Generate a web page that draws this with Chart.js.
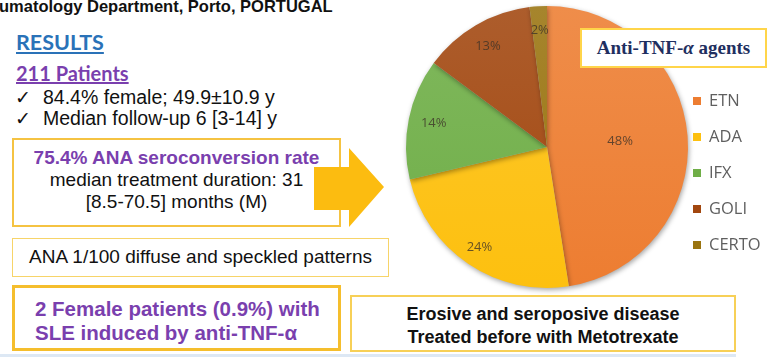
<!DOCTYPE html>
<html>
<head>
<meta charset="utf-8">
<script src="https://cdn.jsdelivr.net/npm/chart.js@4.4.1/dist/chart.umd.min.js"></script>
<style>
  html, body { margin: 0; padding: 0; background: #fff; }
  body { width: 775px; height: 361px; position: relative; overflow: hidden; font-family: "Liberation Sans", Arial, sans-serif; }
  .abs { position: absolute; white-space: nowrap; }
  .box { position: absolute; box-sizing: border-box; background: #fff; white-space: nowrap; }
  #chartWrap { position: absolute; left: 400px; top: 0; width: 375px; height: 300px; }
</style>
</head>
<body>

<div class="abs" style="left:-1px; top:-4px; font-size:16.5px; font-weight:bold; line-height:20px; color:#111;">umatology Department, Porto, PORTUGAL</div>

<div class="abs" style="left:16px; top:30px; font-family:Lato, sans-serif; font-size:21.5px; font-weight:bold; line-height:24px; color:#2a72b8; text-decoration:underline;">RESULTS</div>
<div class="abs" style="left:16px; top:62px; font-family:Lato, sans-serif; font-size:20px; font-weight:bold; line-height:22px; color:#7a3fae; text-decoration:underline;">211 Patients</div>
<div class="abs" style="left:15px; top:86px; font-family:'DejaVu Sans', sans-serif; font-size:19px; line-height:22px; color:#111;">✓</div>
<div class="abs" style="left:43px; top:86px; font-size:19.5px; line-height:22px; color:#111;">84.4% female; 49.9±10.9 y</div>
<div class="abs" style="left:15px; top:107px; font-family:'DejaVu Sans', sans-serif; font-size:19px; line-height:22px; color:#111;">✓</div>
<div class="abs" style="left:43px; top:107px; font-size:19.5px; line-height:22px; color:#111;">Median follow-up 6 [3-14] y</div>

<div class="box" style="left:12px; top:138px; width:329px; height:89px; border:2px solid #f5c342;">
  <div style="text-align:center; padding-top:7px; font-size:19px; line-height:22px; color:#111;">
    <span style="color:#7a3fae; font-weight:bold;">75.4% ANA seroconversion rate</span><br>
    median treatment duration: 31<br>
    [8.5-70.5] months (M)
  </div>
</div>

<svg class="abs" style="left:0; top:0;" width="400" height="361">
  <polygon points="314,167 349,167 349,148 384,187 349,227 349,210 314,210" fill="#fcbc10"/>
</svg>

<div class="box" style="left:12px; top:238px; width:377px; height:39px; border:1.5px solid #f7d469;">
  <div style="text-align:center; font-size:19px; line-height:36px; color:#111;">ANA 1/100 diffuse and speckled patterns</div>
</div>

<div class="box" style="left:12px; top:285px; width:329px; height:66px; border:3px solid #f5be2d;">
  <div style="padding:9px 0 0 20px; font-size:20.5px; font-weight:bold; line-height:24px; color:#7a3fae;">
    2 Female patients (0.9%) with<br>SLE induced by anti-TNF-α
  </div>
</div>

<div id="chartWrap"><canvas id="pieChart"></canvas></div>

<div class="box" style="left:580px; top:28px; width:187px; height:40px; border:2px solid #ffd54a;">
  <div style="text-align:center; font-family:'Liberation Serif', 'DejaVu Serif', serif; font-size:19px; font-weight:bold; line-height:36px; color:#1f2f60;">Anti-TNF-<i>α</i> agents</div>
</div>

<div class="box" style="left:350px; top:295px; width:386px; height:57px; border:2px solid #f7d057;">
  <div style="text-align:center; padding-top:6px; font-size:18px; font-weight:bold; line-height:23px; color:#111;">
    Erosive and seroposive disease<br>Treated before with Metotrexate
  </div>
</div>

<div class="abs" style="left:0; top:354px; width:736px; height:3px; background:#dde8f4;"></div>

<script>
// Anti-TNF-alpha agents, share of patients (%)
const agents = ["ETN", "ADA", "IFX", "GOLI", "CERTO"];
const shares = [48, 24, 14, 13, 2];
const agentColors = ["#ed7d31", "#fdc00f", "#6fae47", "#a2470f", "#9a7410"];

// label distance from centre, as a fraction of the radius
const labelRadius = [0.52, 0.86, 0.82, 0.83, 0.83];

function lighten(hex, amt) {
    const n = parseInt(hex.slice(1), 16);
    const r = (n >> 16) & 255, g = (n >> 8) & 255, b = n & 255;
    const mix = c => Math.round(c + (255 - c) * amt);
    return `rgb(${mix(r)},${mix(g)},${mix(b)})`;
}

// soft shadow under the pie
const pieShadow = {
    id: "pieShadow",
    beforeDatasetsDraw(chart) {
        const ctx = chart.ctx;
        ctx.save();
        ctx.shadowColor = "rgba(0,0,0,0.35)";
        ctx.shadowBlur = 5;
        ctx.shadowOffsetX = 1;
        ctx.shadowOffsetY = 2;
    },
    afterDatasetsDraw(chart) {
        chart.ctx.restore();
    }
};

// percent labels inside the slices
const sliceLabels = {
    id: "sliceLabels",
    afterDatasetsDraw(chart) {
        const ctx = chart.ctx;
        const meta = chart.getDatasetMeta(0);
        ctx.save();
        ctx.font = "13px 'Open Sans', 'Liberation Sans', sans-serif";
        ctx.fillStyle = "rgba(60,50,40,0.78)";
        ctx.textAlign = "center";
        ctx.textBaseline = "middle";
        meta.data.forEach((arc, i) => {
            const p = arc.getProps(["x", "y", "startAngle", "endAngle", "outerRadius"], true);
            const mid = (p.startAngle + p.endAngle) / 2;
            const r = p.outerRadius * labelRadius[i];
            ctx.fillText(shares[i] + "%", p.x + Math.cos(mid) * r, p.y + Math.sin(mid) * r);
        });
        ctx.restore();
    }
};

// legend on the right, spaced like the original
const sideLegend = {
    id: "sideLegend",
    afterDraw(chart) {
        const ctx = chart.ctx;
        const x = chart.chartArea.right + 5;
        const y0 = 101, step = 36;
        ctx.save();
        ctx.font = "16.5px 'Open Sans', 'Liberation Sans', sans-serif";
        ctx.textBaseline = "middle";
        chart.data.labels.forEach((lab, i) => {
            const y = y0 + i * step;
            ctx.fillStyle = agentColors[i];
            ctx.fillRect(x, y - 4, 8, 8);
            ctx.fillStyle = "#5f5f5f";
            ctx.fillText(lab, x + 16, y);
        });
        ctx.restore();
    }
};

new Chart(document.getElementById("pieChart"), {
    type: "pie",
    data: {
        labels: agents,
        datasets: [{
            data: shares,
            backgroundColor: function (c) {
                const area = c.chart.chartArea;
                const base = agentColors[c.dataIndex];
                if (!area) return base;
                const g = c.chart.ctx.createLinearGradient(0, area.top, 0, area.bottom);
                g.addColorStop(0, lighten(base, 0.12));
                g.addColorStop(1, base);
                return g;
            },
            borderWidth: 0
        }]
    },
    options: {
        responsive: true,
        maintainAspectRatio: false,
        animation: false,
        layout: { padding: { left: 6, top: 6, right: 87, bottom: 12 } },
        plugins: {
            legend: { display: false },
            tooltip: { enabled: false }
        }
    },
    plugins: [pieShadow, sliceLabels, sideLegend]
});
</script>
</body>
</html>
